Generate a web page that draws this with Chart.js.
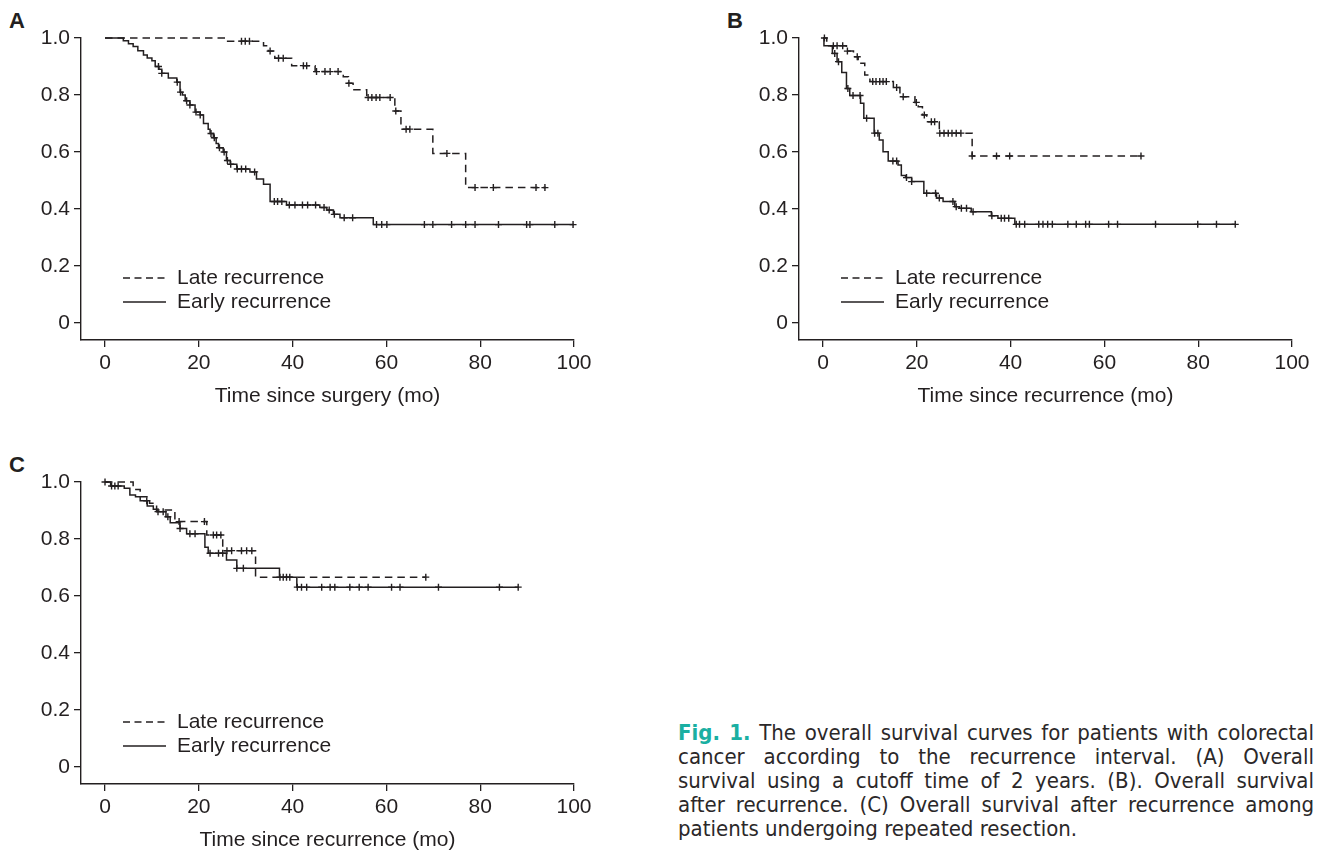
<!DOCTYPE html>
<html>
<head>
<meta charset="utf-8">
<script src="https://cdn.jsdelivr.net/npm/chart.js@4.4.1/dist/chart.umd.min.js"></script>
<style>
  html, body { margin: 0; padding: 0; background: #fff; overflow: hidden; }
  body { width: 1322px; height: 852px; position: relative; }
  canvas { position: absolute; }
  .tag { position: absolute; font: bold 22px "Liberation Sans", Arial, sans-serif; color: #231f20; }
  #caption {
    position: absolute; left: 678px; top: 721px; width: 636px;
    font-family: "Liberation Sans Narrow", "DejaVu Sans Condensed", "Roboto Condensed", sans-serif;
    font-size: 22px; line-height: 24px; color: #2b2829;
  }
  #caption div { text-align: justify; text-align-last: justify; white-space: nowrap; }
  #caption div.last { text-align-last: left; }
  #caption b { color: #1aafa2; }
</style>
</head>
<body>
<div class="tag" style="left:9px;top:8px">A</div>
<div class="tag" style="left:727px;top:8px">B</div>
<div class="tag" style="left:9px;top:452px">C</div>
<canvas id="chartA" width="620" height="420" style="left:0;top:0"></canvas>
<canvas id="chartB" width="620" height="420" style="left:718px;top:0"></canvas>
<canvas id="chartC" width="620" height="420" style="left:0;top:444px"></canvas>
<div id="caption">
  <div><b>Fig. 1.</b> The overall survival curves for patients with colorectal</div>
  <div>cancer according to the recurrence interval. (A) Overall</div>
  <div>survival using a cutoff time of 2 years. (B). Overall survival</div>
  <div>after recurrence. (C) Overall survival after recurrence among</div>
  <div class="last">patients undergoing repeated resection.</div>
</div>

<script>
// tick values
const xTicks = [0, 20, 40, 60, 80, 100];
const yTicks = [0, 0.2, 0.4, 0.6, 0.8, 1.0];

// legend labels
const legendLabels = ['Late recurrence', 'Early recurrence'];

// panel A - time since surgery
const aEarlyT = [0, 3.9, 5, 6, 7, 8.2, 9, 10, 10.7, 11.5, 12.1, 13.5, 15.3, 16, 16.5, 17.1, 18.1, 19.2, 20.3, 21, 22, 22.4, 23.1, 23.7, 24.2, 25.2, 25.9, 26.7, 28.1, 30.9, 32.3, 33.8, 35.2, 38.7, 45.8, 47.3, 48.7, 50.1, 57.2, 100];
const aEarlyS = [1, 0.99, 0.98, 0.97, 0.955, 0.94, 0.93, 0.92, 0.9, 0.89, 0.876, 0.86, 0.845, 0.81, 0.8, 0.78, 0.765, 0.74, 0.73, 0.7, 0.68, 0.665, 0.65, 0.63, 0.615, 0.6, 0.57, 0.557, 0.54, 0.53, 0.505, 0.487, 0.426, 0.414, 0.405, 0.396, 0.381, 0.369, 0.345, 0.345];
const aEarlyCens = [11.4, 12.1, 15.4, 16.1, 17.4, 18.1, 19.4, 20.3, 22.6, 23.3, 24.4, 25.4, 26.1, 26.8, 28.2, 29.1, 30.0, 31.9, 36.1, 36.8, 37.7, 39.3, 40.5, 42.1, 43.2, 44.9, 46.7, 47.8, 48.9, 51.0, 52.8, 57.9, 59.0, 60.1, 68.1, 69.9, 73.9, 76.9, 78.9, 83.9, 89.9, 90.6, 95.9, 99.8];
const aLateT = [0, 25.9, 33.8, 34.8, 36.2, 39.8, 44.8, 50.8, 51.9, 52.9, 55.8, 61.8, 63.1, 69.9, 76.9, 94.0];
const aLateS = [1, 0.989, 0.973, 0.954, 0.929, 0.903, 0.882, 0.864, 0.841, 0.818, 0.791, 0.744, 0.68, 0.595, 0.475, 0.475];
const aLateCens = [29.1, 29.9, 30.8, 35.2, 37.0, 38.0, 42.3, 43.0, 45.1, 46.9, 48.0, 49.7, 52.0, 56.1, 56.9, 57.8, 58.6, 60.8, 62.0, 64.2, 65.0, 72.9, 78.9, 82.8, 91.9, 93.8];

// panel B - time since recurrence
const bEarlyT = [0, 0.2, 2.0, 3.0, 4.0, 5.0, 5.7, 8.0, 8.7, 10.9, 12.0, 12.8, 13.9, 16.0, 16.7, 17.6, 18.9, 21.5, 24.2, 25.6, 28.1, 29.1, 31.6, 35.9, 37.3, 40.9, 87.9];
const bEarlyS = [1, 0.973, 0.946, 0.917, 0.879, 0.823, 0.798, 0.771, 0.718, 0.666, 0.642, 0.601, 0.568, 0.554, 0.517, 0.51, 0.496, 0.455, 0.438, 0.426, 0.408, 0.402, 0.39, 0.376, 0.367, 0.346, 0.346];
const bEarlyCens = [2.5, 3.3, 5.3, 6.4, 7.9, 9.3, 11.0, 11.7, 14.9, 15.7, 17.8, 18.9, 22.1, 24.0, 24.8, 27.7, 28.4, 29.5, 30.6, 32.0, 36.0, 38.0, 38.7, 39.6, 41.2, 41.9, 43.0, 46.0, 46.9, 47.9, 48.9, 52.2, 54.0, 56.0, 56.8, 60.9, 62.8, 70.9, 79.9, 83.9, 87.9];
const bLateT = [0, 0.8, 5.0, 6.5, 7.5, 8.9, 10.0, 15.0, 16.4, 19.6, 20.3, 21.2, 22.1, 24.8, 31.8, 67.8];
const bLateS = [1, 0.973, 0.954, 0.934, 0.911, 0.87, 0.847, 0.826, 0.794, 0.774, 0.759, 0.73, 0.706, 0.666, 0.586, 0.586];
const bLateCens = [0.3, 2.2, 3.0, 4.2, 5.2, 7.3, 10.6, 11.3, 12.1, 12.8, 13.5, 15.7, 17.1, 19.9, 21.6, 23.1, 23.8, 24.9, 25.8, 26.7, 27.5, 28.4, 29.4, 31.8, 37.0, 39.8, 67.8];

// panel C - repeated resection
const cEarlyT = [0, 1.2, 4.1, 5.3, 6.5, 7.5, 9.0, 10.3, 11.0, 13.0, 13.9, 16.0, 17.4, 21.3, 22.0, 25.9, 28.1, 37.2, 40.9, 88.1];
const cEarlyS = [1, 0.986, 0.978, 0.954, 0.948, 0.934, 0.916, 0.904, 0.896, 0.878, 0.857, 0.837, 0.818, 0.771, 0.75, 0.726, 0.697, 0.666, 0.631, 0.631];
const cEarlyCens = [0, 1.4, 2.1, 2.8, 8.9, 11.3, 12.4, 13.4, 16.0, 18.1, 19.2, 22.4, 24.2, 25.1, 28.1, 29.5, 37.3, 38.0, 38.7, 39.4, 41.0, 41.9, 43.0, 46.2, 48.0, 49.0, 52.2, 54.2, 56.1, 61.1, 62.9, 71.1, 84.1, 88.1];
const cLateT = [0, 6.0, 7.5, 9.5, 11.0, 14.9, 21.7, 25.1, 32.1, 68.4];
const cLateS = [1, 0.974, 0.948, 0.925, 0.902, 0.861, 0.814, 0.759, 0.666, 0.666];
const cLateCens = [15.8, 21.2, 23.1, 23.8, 24.7, 26.0, 27.0, 29.1, 30.2, 31.3, 68.4];

const ink = '#231f20';
const fontFamily = '"Liberation Sans", Arial, Helvetica, sans-serif';

// survival value at time t from a step curve
function survAt(T, S, t) {
  let v = S[0];
  for (let i = 0; i < T.length; i++) {
    if (T[i] <= t) v = S[i];
  }
  return v;
}

function curve(T, S) {
  return T.map((t, i) => ({ x: t, y: S[i] }));
}

function censored(T, S, cens) {
  return cens.map(t => ({ x: t, y: survAt(T, S, t) }));
}

// draws the little legend inside the plot area
const kmLegend = {
  id: 'kmLegend',
  afterDraw(chart) {
    const ctx = chart.ctx;
    const a = chart.chartArea;
    ctx.save();
    ctx.strokeStyle = ink;
    ctx.lineWidth = 1.3;
    ctx.fillStyle = ink;
    ctx.font = '21px ' + fontFamily;
    ctx.textBaseline = 'middle';
    const rows = [{ y: a.top + 240, dash: [7, 4.5] }, { y: a.top + 264, dash: [] }];
    rows.forEach((r, i) => {
      ctx.setLineDash(r.dash);
      ctx.beginPath();
      ctx.moveTo(a.left + 42, r.y);
      ctx.lineTo(a.left + 85, r.y);
      ctx.stroke();
      ctx.fillText(legendLabels[i], a.left + 96, r.y);
    });
    ctx.restore();
  }
};

function makePanel(id, early, late, xTitle) {
  const ctx = document.getElementById(id).getContext('2d');
  return new Chart(ctx, {
    type: 'line',
    data: {
      datasets: [
        {
          data: curve(late.T, late.S),
          stepped: true,
          borderColor: ink,
          borderWidth: 1.5,
          borderDash: [7.5, 5],
          pointRadius: 0,
          clip: false
        },
        {
          data: curve(early.T, early.S),
          stepped: true,
          borderColor: ink,
          borderWidth: 1.5,
          pointRadius: 0,
          clip: false
        },
        {
          type: 'scatter',
          data: censored(late.T, late.S, late.cens).concat(censored(early.T, early.S, early.cens)),
          showLine: false,
          pointStyle: 'cross',
          pointRadius: 3.5,
          pointBorderWidth: 1.4,
          pointBorderColor: ink,
          clip: false
        }
      ]
    },
    options: {
      responsive: false,
      animation: false,
      devicePixelRatio: 1,
      layout: { padding: { left: 0, top: 38, right: 46, bottom: 11 } },
      plugins: { legend: { display: false }, tooltip: { enabled: false } },
      scales: {
        x: {
          type: 'linear',
          min: -5.12,
          max: 100,
          afterBuildTicks: s => { s.ticks = xTicks.map(v => ({ value: v })); },
          afterFit: s => { s.height = 69; },
          grid: { display: true, drawOnChartArea: false, drawTicks: true, tickLength: 7, color: ink, lineWidth: 1.3 },
          border: { display: true, color: ink, width: 1.4 },
          ticks: { color: ink, padding: 4, font: { family: fontFamily, size: 21 }, maxRotation: 0 },
          title: { display: true, text: xTitle, color: ink, font: { family: fontFamily, size: 21 }, padding: 0 }
        },
        y: {
          min: -0.06,
          max: 1.0,
          afterBuildTicks: s => { s.ticks = yTicks.map(v => ({ value: v })); },
          afterFit: s => { s.width = 81; },
          grid: { display: true, drawOnChartArea: false, drawTicks: true, tickLength: 7, color: ink, lineWidth: 1.3 },
          border: { display: true, color: ink, width: 1.4 },
          ticks: {
            color: ink, padding: 4, font: { family: fontFamily, size: 21 },
            callback: v => (v === 0 ? '0' : v.toFixed(1))
          }
        }
      }
    },
    plugins: [kmLegend]
  });
}

makePanel('chartA',
  { T: aEarlyT, S: aEarlyS, cens: aEarlyCens },
  { T: aLateT, S: aLateS, cens: aLateCens },
  'Time since surgery (mo)');
makePanel('chartB',
  { T: bEarlyT, S: bEarlyS, cens: bEarlyCens },
  { T: bLateT, S: bLateS, cens: bLateCens },
  'Time since recurrence (mo)');
makePanel('chartC',
  { T: cEarlyT, S: cEarlyS, cens: cEarlyCens },
  { T: cLateT, S: cLateS, cens: cLateCens },
  'Time since recurrence (mo)');
</script>
</body>
</html>
